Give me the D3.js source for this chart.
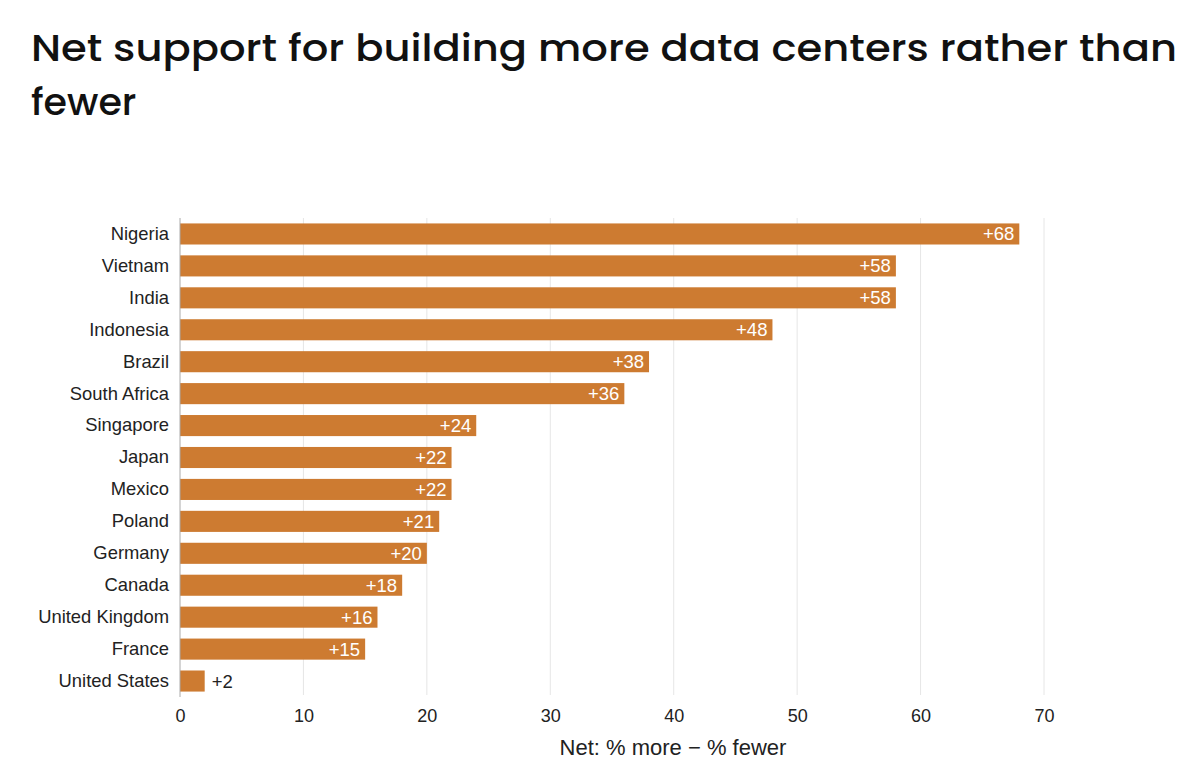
<!DOCTYPE html>
<html>
<head>
<meta charset="utf-8">
<script src="https://cdn.jsdelivr.net/npm/d3@7"></script>
<style>
  body { margin: 0; background: #fff; }
  svg { display: block; }
</style>
</head>
<body>
<svg id="chart" width="1200" height="765"></svg>
<script>
// Chart data
let countries = ["Nigeria", "Vietnam", "India", "Indonesia", "Brazil", "South Africa", "Singapore",
    "Japan", "Mexico", "Poland", "Germany", "Canada", "United Kingdom", "France", "United States"];
let netValues = [68, 58, 58, 48, 38, 36, 24, 22, 22, 21, 20, 18, 16, 15, 2];
let xTicks = [0, 10, 20, 30, 40, 50, 60, 70];

let titleLines = ["Net support for building more data centers rather than", "fewer"];
let xTitle = "Net: % more \u2212 % fewer";

let labelFont = "Arial, 'Liberation Sans', sans-serif";
let svg = d3.select("#chart");

// Title (two lines)
let title = svg.append("g")
    .attr("font-family", "Poppins, Inter, 'Noto Sans', sans-serif")
    .attr("font-size", 38)
    .attr("font-weight", 500)
    .attr("fill", "#111");
titleLines.forEach((line, i) => {
    let t = title.append("text").attr("x", 31).attr("y", 61 + i * 54).text(line);
    if (i == 0) {
        // stretch to the same width as the reference
        t.attr("textLength", 1146).attr("lengthAdjust", "spacingAndGlyphs");
    }
});

// Scales
let x = d3.scaleLinear().domain([0, 70]).range([180, 1044]);
let y = d3.scaleBand().domain(countries).range([218, 697]).paddingInner(0.34).paddingOuter(0.17);

// Gridlines
svg.append("g").selectAll("line")
    .data(xTicks.slice(1))
    .join("line")
    .attr("x1", d => x(d)).attr("x2", d => x(d))
    .attr("y1", 218).attr("y2", 695)
    .attr("stroke", "#e6e6e6").attr("stroke-width", 1);

// Bars
svg.append("g").selectAll("rect")
    .data(countries)
    .join("rect")
    .attr("x", x(0))
    .attr("y", d => y(d))
    .attr("width", (d, i) => x(netValues[i]) - x(0))
    .attr("height", y.bandwidth())
    .attr("fill", "#cd7b31");

// Value labels
svg.append("g").selectAll("text")
    .data(countries)
    .join("text")
    .attr("font-family", labelFont)
    .attr("font-size", 18.5)
    .attr("dy", "0.35em")
    .attr("y", d => y(d) + y.bandwidth() / 2)
    .each(function (d, i) {
        let v = netValues[i];
        let inside = v > 5;
        d3.select(this)
            .attr("x", inside ? x(v) - 5 : x(v) + 7)
            .attr("text-anchor", inside ? "end" : "start")
            .attr("fill", inside ? "#fff" : "#222")
            .text("+" + v);
    });

// Y axis (country names)
let yAxis = svg.append("g")
    .attr("transform", `translate(${x(0)},0)`)
    .call(d3.axisLeft(y).tickSize(0).tickPadding(11));
yAxis.select(".domain").remove();
yAxis.selectAll("text")
    .attr("font-family", labelFont)
    .attr("font-size", 18.4)
    .attr("fill", "#222");

svg.append("line")
    .attr("x1", x(0)).attr("x2", x(0))
    .attr("y1", 218).attr("y2", 697)
    .attr("stroke", "#aaa").attr("stroke-width", 1);

// X axis
let xAxis = svg.append("g")
    .attr("transform", "translate(0,697)")
    .call(d3.axisBottom(x).tickValues(xTicks).tickSize(0).tickPadding(12));
xAxis.select(".domain").remove();
xAxis.selectAll("text")
    .attr("font-family", labelFont)
    .attr("font-size", 18)
    .attr("fill", "#222");

svg.append("text")
    .attr("x", 673).attr("y", 755)
    .attr("text-anchor", "middle")
    .attr("font-family", labelFont)
    .attr("font-size", 22)
    .attr("fill", "#222")
    .text(xTitle);
</script>
</body>
</html>
